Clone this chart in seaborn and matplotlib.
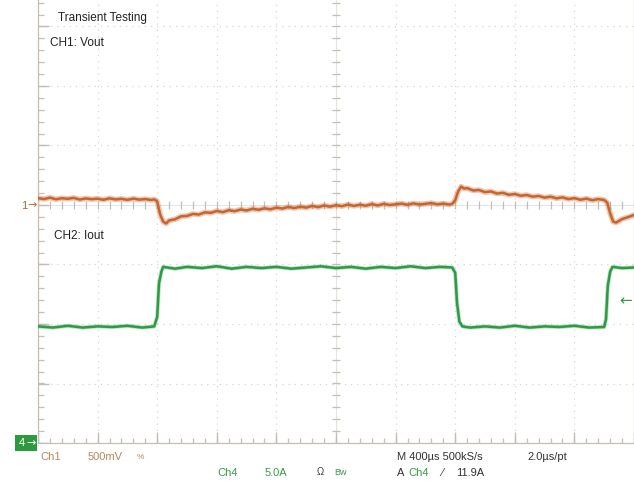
import numpy as np
import pandas as pd
import matplotlib
matplotlib.use("Agg")
import matplotlib.pyplot as plt
import seaborn as sns
from matplotlib.patches import Rectangle

# ---------------- data ----------------
ch1_time_us = [-2000, -1960, -1920, -1880, -1840, -1800, -1760, -1720, -1680, -1640,
               -1600, -1560, -1520, -1480, -1440, -1400, -1360, -1320, -1280, -1240,
               -1220, -1200, -1180, -1160, -1140, -1120, -1080, -1040, -1000, -960,
               -920, -880, -840, -800, -760, -720, -680, -640, -600, -560,
               -520, -480, -440, -400, -360, -320, -280, -240, -200, -160,
               -120, -80, -40, 0, 40, 80, 120, 160, 200, 240,
               280, 320, 360, 400, 440, 480, 520, 560, 600, 640,
               680, 720, 760, 780, 800, 820, 840, 860, 880, 920,
               960, 1000, 1040, 1080, 1120, 1160, 1200, 1240, 1280, 1320,
               1360, 1400, 1440, 1480, 1520, 1560, 1600, 1640, 1680, 1720,
               1760, 1800, 1820, 1840, 1860, 1880, 1920, 1960, 2000]
ch1_vout_mV = [58, 50, 62, 48, 57, 52, 60, 46, 55, 49,
               53, 44, 56, 47, 52, 43, 54, 45, 50, 42,
               48, 30, -80, -140, -155, -130, -120, -95, -92, -75,
               -80, -62, -66, -50, -60, -44, -52, -38, -46, -32,
               -40, -28, -36, -22, -30, -16, -26, -14, -22, -8,
               -18, -4, -14, -2, -10, 4, -8, 2, -6, 8,
               -4, 10, 0, 6, 12, 2, 14, 4, 10, 16,
               6, 12, 4, 10, 40, 115, 155, 138, 142, 122,
               126, 108, 114, 96, 102, 86, 92, 78, 84, 70,
               76, 62, 70, 56, 64, 50, 58, 44, 54, 40,
               50, 42, 20, -70, -140, -148, -118, -102, -84]

ch4_time_us = [-2000, -1900, -1800, -1700, -1600, -1500, -1400, -1300, -1220, -1200,
               -1188, -1172, -1160, -1080, -1000, -900, -800, -700, -600, -500,
               -400, -300, -200, -100, 0, 100, 200, 300, 400, 500,
               600, 700, 780, 800, 812, 828, 848, 900, 1000, 1100,
               1200, 1300, 1400, 1500, 1600, 1700, 1800, 1812, 1824, 1840,
               1856, 1920, 2000]
ch4_iout_A = [9.8, 9.7, 9.85, 9.7, 9.8, 9.75, 9.85, 9.7, 9.8, 10.6,
              13.4, 14.4, 14.8, 14.65, 14.8, 14.7, 14.85, 14.65, 14.8, 14.7,
              14.8, 14.65, 14.75, 14.85, 14.7, 14.8, 14.65, 14.8, 14.7, 14.85,
              14.7, 14.8, 14.75, 14.3, 11.8, 10.2, 9.8, 9.7, 9.8, 9.7,
              9.85, 9.7, 9.8, 9.75, 9.85, 9.7, 9.75, 10.4, 13.2, 14.4,
              14.8, 14.7, 14.75]

# scope settings
US_PER_DIV = 400.0
MV_PER_DIV = 500.0
A_PER_DIV = 5.0
CH4_GROUND_DIV = -4.0
TRIG_LEVEL_A = 11.9

ch1 = pd.DataFrame({"t": np.array(ch1_time_us) / US_PER_DIV,
                    "y": np.array(ch1_vout_mV) / MV_PER_DIV})
ch4 = pd.DataFrame({"t": np.array(ch4_time_us) / US_PER_DIV,
                    "y": np.array(ch4_iout_A) / A_PER_DIV + CH4_GROUND_DIV})

# ---------------- figure ----------------
sns.set_theme(style="white")
plt.rcParams['font.family'] = ['Liberation Sans', 'DejaVu Sans']

W, H = 634, 486
fig = plt.figure(figsize=(W / 100, H / 100), dpi=100)
fig.patch.set_facecolor("white")
ax = fig.add_axes([38 / W, 43 / H, 596 / W, 443 / H])
ax.set_facecolor("white")
ax.set_xlim(-5, 5)
ax.set_ylim(-4, 205 / 59.5)
ax.set_xticks([])
ax.set_yticks([])
ax.spines["top"].set_visible(False)
for s in ["left", "bottom", "right"]:
    ax.spines[s].set_color("#c4beb4")
    ax.spines[s].set_linewidth(0.9)

grid_c = "#d6d6d6"
tick_c = "#c4beb4"
for k in range(-4, 5):
    if k != 0:
        ax.axvline(k, ls=(0, (1, 4)), color=grid_c, lw=0.9, zorder=0)
for k in range(-3, 4):
    if k != 0:
        ax.axhline(k, ls=(0, (1, 4)), color=grid_c, lw=0.9, zorder=0)
# centre axes
ax.axvline(0, color="#e6e2dc", lw=0.8, zorder=0)
ax.axhline(0, color="#dfe6ee", lw=0.8, zorder=0)
xs = np.arange(-5, 5.001, 0.2)
ys = np.arange(-4, 3.5, 0.2)
ax.vlines(xs, -0.07, 0.07, color=tick_c, lw=0.9, zorder=1)
ax.hlines(ys, -0.07, 0.07, color=tick_c, lw=0.9, zorder=1)
# bottom / left axis ticks
ax.vlines(xs, -4, -4 + 0.09, color=tick_c, lw=0.9, zorder=1)
ax.vlines(np.arange(-5, 5.01, 1), -4, -4 + 0.19, color=tick_c, lw=1.0, zorder=1)
ax.hlines(ys, -5, -5 + 0.1, color=tick_c, lw=0.9, zorder=1)
ax.hlines(np.arange(-4, 3.5, 1), -5, -5 + 0.19, color=tick_c, lw=1.0, zorder=1)

orange = "#c8642d"
green = "#2e9a44"
sns.lineplot(data=ch1, x="t", y="y", ax=ax, sort=False, estimator=None,
             color=orange, lw=4.0, alpha=0.35, zorder=3)
sns.lineplot(data=ch1, x="t", y="y", ax=ax, sort=False, estimator=None,
             color=orange, lw=1.8, zorder=4)
sns.lineplot(data=ch4, x="t", y="y", ax=ax, sort=False, estimator=None,
             color=green, lw=3.0, alpha=0.3, zorder=3)
sns.lineplot(data=ch4, x="t", y="y", ax=ax, sort=False, estimator=None,
             color=green, lw=1.8, zorder=4)
ax.set_xlabel("")
ax.set_ylabel("")


def px(x, y):
    return x / W, 1 - y / H


def ftext(x, y, s, color="#222222", size=8.5, **kw):
    fig.text(*px(x, y), s, color=color, fontsize=size, va="center", ha="left", **kw)


ftext(58, 18, "Transient Testing")
ftext(50, 43, "CH1: Vout")
ftext(54, 236, "CH2: Iout")

# channel markers
ftext(21, 206, "1", color="#9a6a4a", size=8)
fig.text(*px(27, 205), "→", color=orange, fontsize=8, va="center", ha="left",
         family="DejaVu Sans")
fig.patches.append(Rectangle(px(15, 451), 22 / W, 16 / H, transform=fig.transFigure,
                             facecolor="#2e9a40", edgecolor="none"))
ftext(19, 443, "4", color="white", size=8)
fig.text(*px(26, 443), "→", color="white", fontsize=8, va="center", ha="left",
         family="DejaVu Sans")
trig_y_px = 205 - (TRIG_LEVEL_A / A_PER_DIV + CH4_GROUND_DIV) * 59.5
fig.text(*px(619, trig_y_px), "←", color=green, fontsize=11, va="center", ha="left",
         family="DejaVu Sans")

# status bar
tan = "#b9875c"
ftext(40, 457, "Ch1", color=tan, size=8)
ftext(88, 457, "500mV", color=tan, size=8)
ftext(137, 457, "%", color="#b9875c", size=6)
ftext(397, 457, "M 400µs 500kS/s", color="#333333", size=8)
ftext(527, 457, "2.0µs/pt", color="#333333", size=8)

ftext(217, 473, "Ch4", color="#3a9a4a", size=8)
ftext(265, 473, "5.0A", color="#3a9a4a", size=8)
ftext(317, 472, "Ω", color="#444444", size=7)
ftext(334, 472, "Bw", color="#3a9a4a", size=6.5)
ftext(397, 473, "A", color="#333333", size=8)
ftext(408, 473, "Ch4", color="#3a9a4a", size=8)
ftext(441, 473, "⁄", color="#333333", size=8)
ftext(456, 473, "11.9A", color="#333333", size=8)

fig.savefig("out.png", dpi=100)
